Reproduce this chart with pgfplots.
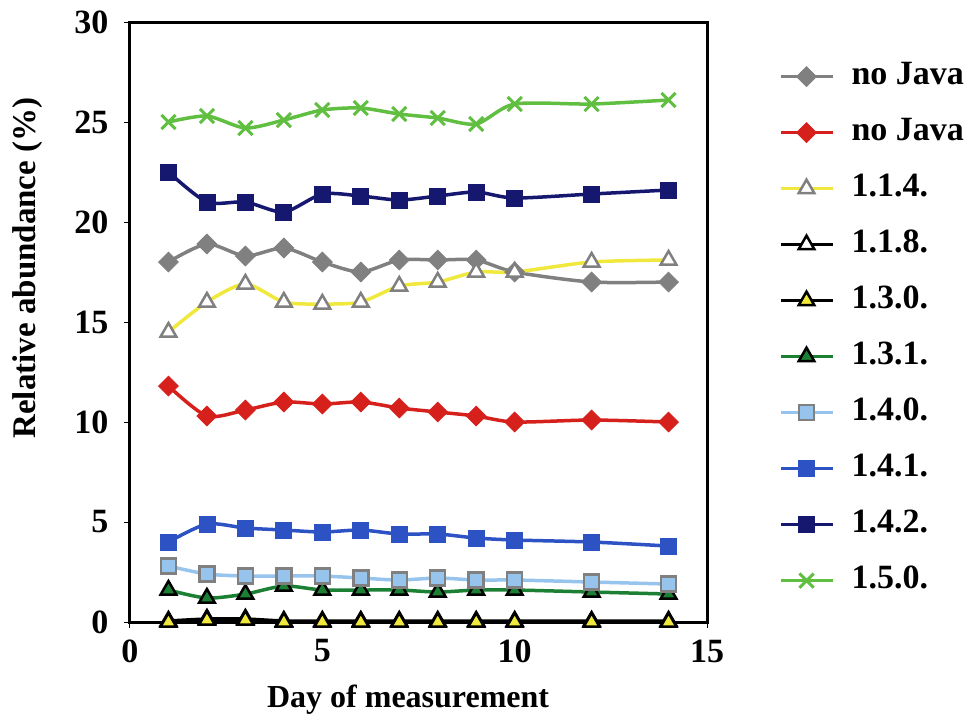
\documentclass[border=0pt]{standalone}
\usepackage{pgfplots}
\pgfplotsset{compat=1.18}
\usepackage{fontspec}
\setmainfont{Liberation Serif}

\definecolor{cGray}{RGB}{128,128,128}
\definecolor{cRed}{RGB}{214,32,28}
\definecolor{cYellow}{RGB}{240,232,60}
\definecolor{cDkGreen}{RGB}{28,128,52}
\definecolor{cLtBlue}{RGB}{150,196,236}
\definecolor{cBlue}{RGB}{44,82,196}
\definecolor{cNavy}{RGB}{22,24,112}
\definecolor{cLtGreen}{RGB}{96,190,64}

\begin{document}
\begin{tikzpicture}
\begin{axis}[
    scale only axis,
    width=577pt, height=600pt,
    xmin=0, xmax=15, ymin=0, ymax=30,
    xtick={0,5,10,15}, ytick={0,5,10,15,20,25,30},
    axis line style={line width=3pt},
    tick align=outside, tick pos=left,
    major tick length=6pt,
    tick style={black, line width=1pt},
    /pgf/number format/assume math mode=true,
    ticklabel style={font=\fontsize{34}{40}\selectfont\bfseries},
    yticklabel style={xshift=-12pt},
    xticklabel style={yshift=-8pt},
    xlabel={Day of measurement},
    ylabel={Relative abundance (\%)},
    xlabel style={font=\fontsize{32}{38}\selectfont\bfseries,
        at={(axis description cs:0.482,-0.143)}, anchor=base},
    ylabel style={font=\fontsize{33}{38}\selectfont\bfseries,
        at={(axis description cs:-0.177,0.59)}, anchor=center},
    clip=false,
    legend style={at={(1.124,0.936)}, anchor=north west, draw=none, fill=none,
        inner sep=0pt, row sep=24pt,
        font=\fontsize{34}{40}\selectfont\bfseries,
        nodes={text height=24pt, text depth=8pt, inner sep=0pt}},
    legend cell align=left,
    legend image code/.code={%
        \path[draw=none, fill=none] (0pt,0pt) rectangle (71pt,1pt);
        \draw[mark repeat=2, mark phase=2]
        plot coordinates {(0pt,0pt) (26pt,0pt) (52pt,0pt)};},
    every axis plot/.append style={line width=3.5pt, smooth, tension=0.45},
]
% invisible frame so that the page keeps the reference's margins
\path (axis description cs:-0.2253,-0.1667) (axis description cs:1.4575,1.0367);
% no Java (grey)
\addplot[cGray, mark=square*, mark size=7pt, mark options={solid, rotate=45, line width=0.8pt, fill=cGray}]
coordinates {(1,18.0) (2,18.9) (3,18.3) (4,18.7) (5,18.0) (6,17.5) (7,18.1) (8,18.1) (9,18.1) (10,17.5) (12,17.0) (14,17.0)};
% no Java (red)
\addplot[cRed, mark=square*, mark size=7pt, mark options={solid, rotate=45, line width=0.8pt, fill=cRed}]
coordinates {(1,11.8) (2,10.3) (3,10.6) (4,11.0) (5,10.9) (6,11.0) (7,10.7) (8,10.5) (9,10.3) (10,10.0) (12,10.1) (14,10.0)};
% 1.1.4.
\addplot[cYellow, mark=triangle*, mark size=9pt, mark options={solid, line width=2.5pt, draw=cGray, fill=white}]
coordinates {(1,14.5) (2,16.0) (3,16.9) (4,16.0) (5,15.9) (6,16.0) (7,16.8) (8,17.0) (9,17.5) (10,17.5) (12,18.0) (14,18.1)};
% 1.1.8.
\addplot[black, mark=triangle*, mark size=9pt, mark options={solid, line width=2.5pt, draw=black, fill=white}]
coordinates {(1,0.05) (2,0.15) (3,0.15) (4,0.05) (5,0.05) (6,0.05) (7,0.05) (8,0.05) (9,0.05) (10,0.05) (12,0.05) (14,0.05)};
% 1.3.0.
\addplot[black, mark=triangle*, mark size=9pt, mark options={solid, line width=2.5pt, draw=black, fill=cYellow}]
coordinates {(1,0.0) (2,0.1) (3,0.1) (4,0.0) (5,0.0) (6,0.0) (7,0.0) (8,0.0) (9,0.0) (10,0.0) (12,0.0) (14,0.0)};
% 1.3.1.
\addplot[cDkGreen, mark=triangle*, mark size=9pt, mark options={solid, line width=2.5pt, draw=black, fill=cDkGreen}]
coordinates {(1,1.6) (2,1.2) (3,1.4) (4,1.8) (5,1.6) (6,1.6) (7,1.6) (8,1.5) (9,1.6) (10,1.6) (12,1.5) (14,1.4)};
% 1.4.0.
\addplot[cLtBlue, mark=square*, mark size=7.5pt, mark options={solid, line width=2.5pt, draw=cGray, fill=cLtBlue}]
coordinates {(1,2.8) (2,2.4) (3,2.3) (4,2.3) (5,2.3) (6,2.2) (7,2.1) (8,2.2) (9,2.1) (10,2.1) (12,2.0) (14,1.9)};
% 1.4.1.
\addplot[cBlue, mark=square*, mark size=8pt, mark options={solid, line width=0.8pt, fill=cBlue}]
coordinates {(1,4.0) (2,4.9) (3,4.7) (4,4.6) (5,4.5) (6,4.6) (7,4.4) (8,4.4) (9,4.2) (10,4.1) (12,4.0) (14,3.8)};
% 1.4.2.
\addplot[cNavy, mark=square*, mark size=8pt, mark options={solid, line width=0.8pt, fill=cNavy}]
coordinates {(1,22.5) (2,21.0) (3,21.0) (4,20.5) (5,21.4) (6,21.3) (7,21.1) (8,21.3) (9,21.5) (10,21.2) (12,21.4) (14,21.6)};
% 1.5.0.
\addplot[cLtGreen, mark=x, mark size=10pt, mark options={solid, line width=3pt}]
coordinates {(1,25.0) (2,25.3) (3,24.7) (4,25.1) (5,25.6) (6,25.7) (7,25.4) (8,25.2) (9,24.9) (10,25.9) (12,25.9) (14,26.1)};
\legend{no Java, no Java, 1.1.4., 1.1.8., 1.3.0., 1.3.1., 1.4.0., 1.4.1., 1.4.2., 1.5.0.}
\end{axis}
\end{tikzpicture}
\end{document}
